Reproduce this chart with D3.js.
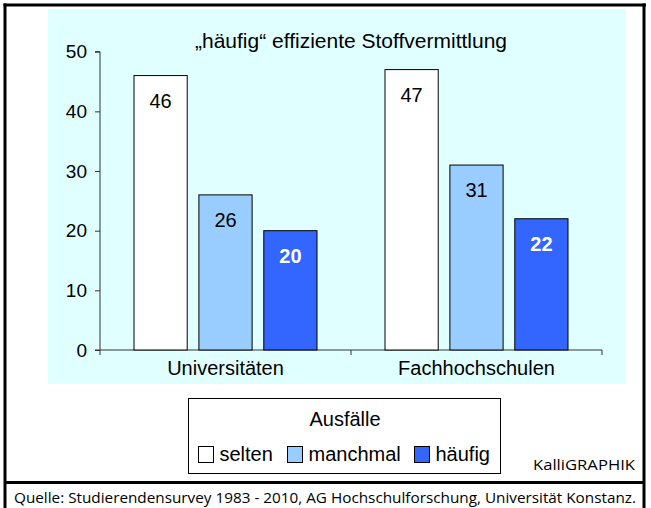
<!DOCTYPE html>
<html><head><meta charset="utf-8">
<script src="https://cdn.jsdelivr.net/npm/d3@7"></script>
<style>body{margin:0;background:#fff}svg{display:block}text{font-family:Arial,"Liberation Sans",sans-serif}</style>
</head><body>
<script>
const categories = ["Universitäten", "Fachhochschulen"];
const seriesNames = ["selten", "manchmal", "häufig"];
const selten = [46, 47];
const manchmal = [26, 31];
const haeufig = [20, 22];
const yTicks = [0, 10, 20, 30, 40, 50];
const colors = ["#ffffff", "#99ccff", "#3366ff"];
const labelColors = ["#000", "#000", "#fff"];
const titleText = "„häufig“ effiziente Stoffvermittlung";
const legendTitle = "Ausfälle";
const sourceText = "Quelle: Studierendensurvey 1983 - 2010, AG Hochschulforschung, Universität Konstanz.";
const creditText = "KalliGRAPHIK";

const values = [selten, manchmal, haeufig];
const W = 651, H = 508;
const svg = d3.select("body").append("svg").attr("width", W).attr("height", H);

// plot background
svg.append("rect").attr("x", 48).attr("y", 9).attr("width", 578).attr("height", 375).attr("fill", "#e0ffff");

const y = d3.scaleLinear().domain([0, 50]).range([350, 51.7]);
const x0 = d3.scaleBand().domain(categories).range([100, 602]);
const x1 = d3.scaleBand().domain(seriesNames).range([34, 217]).paddingInner(0.18);

// y axis
const yAxis = d3.axisLeft(y).tickValues(yTicks).tickSize(5).tickPadding(8);
const gy = svg.append("g").attr("transform", "translate(100,0)").call(yAxis);
gy.select(".domain").attr("stroke", "#333").attr("d", "M-5,51.7H0V350H-5");
gy.selectAll(".tick line").attr("stroke", "#333");
gy.selectAll(".tick text").attr("font-size", 19).attr("fill", "#000").style("font-family", "Arial, 'Liberation Sans', sans-serif");

// x axis line with category boundary ticks
const xb = [100, ...categories.map(c => x0(c) + x0.bandwidth())];
svg.append("line").attr("x1", 100).attr("x2", 602).attr("y1", 350).attr("y2", 350).attr("stroke", "#333");
svg.selectAll(".xt").data(xb).enter().append("line")
  .attr("x1", d => d).attr("x2", d => d).attr("y1", 350).attr("y2", 355).attr("stroke", "#333");

// bars
categories.forEach((c, ci) => {
  seriesNames.forEach((s, si) => {
    const v = values[si][ci];
    const bx = x0(c) + x1(s);
    svg.append("rect").attr("x", bx).attr("y", y(v)).attr("width", x1.bandwidth()).attr("height", y(0) - y(v))
      .attr("fill", colors[si]).attr("stroke", "#000").attr("stroke-width", 1);
    svg.append("text").attr("x", bx + x1.bandwidth() / 2).attr("y", y(v) + 32)
      .attr("text-anchor", "middle").attr("font-size", 20).attr("fill", labelColors[si])
      .attr("font-weight", si === 2 ? "bold" : "normal").text(v);
  });
  svg.append("text").attr("x", x0(c) + x0.bandwidth() / 2).attr("y", 375)
    .attr("text-anchor", "middle").attr("font-size", 20).attr("fill", "#000").text(c);
});

// title
svg.append("text").attr("x", 351).attr("y", 48).attr("text-anchor", "middle").attr("font-size", 21).attr("fill", "#000").text(titleText);

// legend
svg.append("rect").attr("x", 188.5).attr("y", 398.5).attr("width", 312).attr("height", 75).attr("fill", "#fff").attr("stroke", "#000");
svg.append("text").attr("x", 345).attr("y", 426).attr("text-anchor", "middle").attr("font-size", 20).attr("fill", "#000").text(legendTitle);
const legX = [198.5, 287.5, 414.5];
seriesNames.forEach((s, si) => {
  svg.append("rect").attr("x", legX[si]).attr("y", 446.5).attr("width", 15).attr("height", 16)
    .attr("fill", colors[si]).attr("stroke", "#000");
  svg.append("text").attr("x", legX[si] + 21).attr("y", 461).attr("font-size", 20).attr("fill", "#000").text(s);
});

// credit
svg.append("text").attr("x", 533).attr("y", 470).attr("font-size", 15).attr("fill", "#000")
  .style("font-family", "'Open Sans', sans-serif").attr("textLength", 102).attr("lengthAdjust", "spacingAndGlyphs").text(creditText);

// frame
svg.append("line").attr("x1", 3.5).attr("x2", 646).attr("y1", 5).attr("y2", 5).attr("stroke", "#000").attr("stroke-width", 3);
svg.append("line").attr("x1", 5).attr("x2", 5).attr("y1", 3.5).attr("y2", 508).attr("stroke", "#000").attr("stroke-width", 3);
svg.append("line").attr("x1", 644).attr("x2", 644).attr("y1", 3.5).attr("y2", 508).attr("stroke", "#000").attr("stroke-width", 3);
svg.append("line").attr("x1", 5).attr("x2", 644).attr("y1", 482.5).attr("y2", 482.5).attr("stroke", "#000").attr("stroke-width", 3);

// source
svg.append("text").attr("x", 14).attr("y", 503).attr("font-size", 15).attr("fill", "#000")
  .style("font-family", "'Open Sans', sans-serif")
  .attr("textLength", 622).attr("lengthAdjust", "spacingAndGlyphs").text(sourceText);
</script>
</body></html>
